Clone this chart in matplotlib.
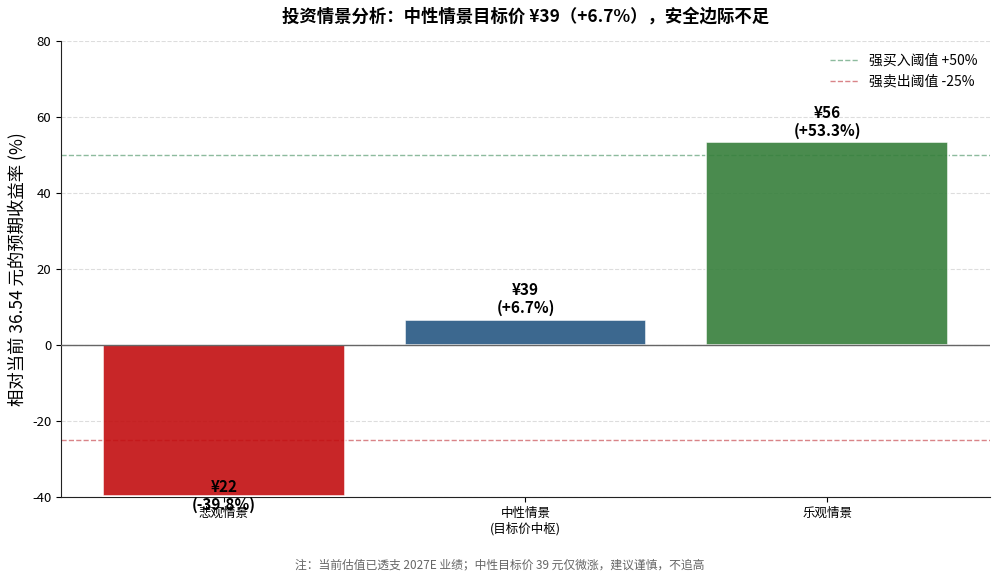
"""
投资情景分析：三种情景下的目标价与预期收益率
"""

import matplotlib
matplotlib.use('Agg')
import matplotlib.pyplot as plt

# 数据
scenarios = ['悲观情景', '中性情景\n(目标价中枢)', '乐观情景']
target_prices = [22, 39, 56]
returns_pct = [-39.8, 6.7, 53.3]
bar_colors = ['#C20E10', '#275783', '#367F3B']

BUY_THRESHOLD = 50
SELL_THRESHOLD = -25
CURRENT_PRICE = 36.54

plt.rcParams['font.family'] = ['Noto Sans CJK SC', 'DejaVu Sans']
plt.rcParams['axes.unicode_minus'] = False

fig = plt.figure(figsize=(10, 5.86), dpi=100)
ax = fig.add_axes([0.061, 0.152, 0.929, 0.778])

x = range(len(scenarios))
bars = ax.bar(x, returns_pct, width=0.8, color=bar_colors, alpha=0.9,
              edgecolor='white', linewidth=1.2, zorder=3)

# 阈值线
ax.axhline(BUY_THRESHOLD, color='#8DBB9E', linestyle='--', linewidth=1,
           label=f'强买入阈值 +{BUY_THRESHOLD}%', zorder=2)
ax.axhline(SELL_THRESHOLD, color='#D98488', linestyle='--', linewidth=1,
           label=f'强卖出阈值 {SELL_THRESHOLD}%', zorder=2)
ax.axhline(0, color='#666666', linewidth=1, zorder=4)

# 数值标签
for i, (p, r) in enumerate(zip(target_prices, returns_pct)):
    txt = f'¥{p}\n({r:+.1f}%)'
    if r >= 0:
        ax.text(i, r + 1, txt, ha='center', va='bottom', fontsize=11,
                fontweight='bold', linespacing=1.1, zorder=5)
    else:
        ax.text(i, r, txt, ha='center', va='center', fontsize=11,
                fontweight='bold', linespacing=1.1, zorder=5)

ax.set_ylim(-40, 80)
ax.set_yticks([-40, -20, 0, 20, 40, 60, 80])
ax.set_xticks(list(x))
ax.set_xticklabels(scenarios, fontsize=9)
ax.tick_params(axis='y', labelsize=9.5)
ax.set_ylabel(f'相对当前 {CURRENT_PRICE} 元的预期收益率 (%)', fontsize=12.5)

ax.grid(axis='y', linestyle='--', color='#DDDDDD', linewidth=0.8, zorder=0)
ax.set_axisbelow(True)
ax.spines['top'].set_visible(False)
ax.spines['right'].set_visible(False)
ax.spines['left'].set_color('#222222')
ax.spines['bottom'].set_color('#222222')

ax.legend(loc='upper right', frameon=False, fontsize=10)

ax.set_title('投资情景分析：中性情景目标价 ¥39（+6.7%），安全边际不足',
             fontsize=12.5, fontweight='bold', pad=14)
fig.text(0.5, 0.03, '注：当前估值已透支 2027E 业绩；中性目标价 39 元仅微涨，建议谨慎，不追高',
         ha='center', fontsize=8.5, color='#666666')

fig.savefig('out.png', dpi=100)
